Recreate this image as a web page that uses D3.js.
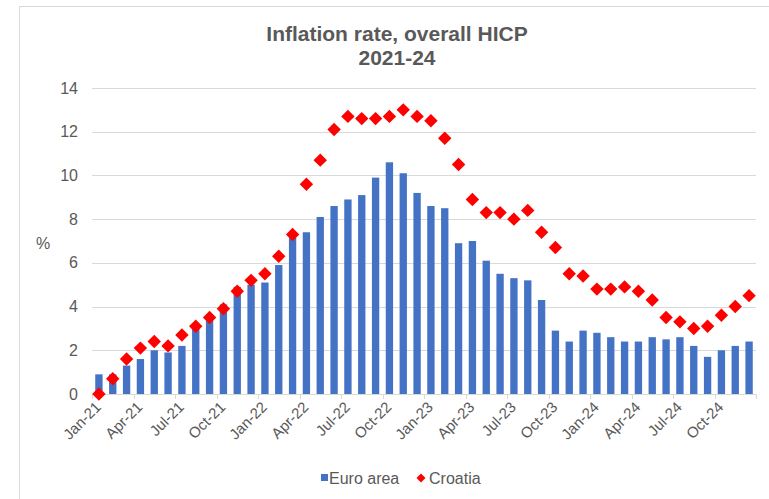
<!DOCTYPE html>
<html>
<head lang="en">
    <meta charset="UTF-8">
    <title>Inflation rate, overall HICP</title>
    <script src="https://cdnjs.cloudflare.com/ajax/libs/d3/7.8.5/d3.min.js"></script>
    <style>
        body { margin: 0; background: #fff; }
        text { font-family: Arial, "Liberation Sans", sans-serif; fill: #595959; }
    </style>
</head>
<body>

<script>

    // months Jan-21 .. Dec-24
    var years = ["21", "22", "23", "24"];
    var monthNames = ["Jan", "Feb", "Mar", "Apr", "May", "Jun", "Jul", "Aug", "Sep", "Oct", "Nov", "Dec"];
    var months = [];
    years.forEach(function(y){
        monthNames.forEach(function(m){ months.push(m + "-" + y); });
    });

    var euroArea = [0.9, 0.9, 1.3, 1.6, 2.0, 1.9, 2.2, 3.0, 3.4, 4.1, 4.9, 5.0,
                    5.1, 5.9, 7.4, 7.4, 8.1, 8.6, 8.9, 9.1, 9.9, 10.6, 10.1, 9.2,
                    8.6, 8.5, 6.9, 7.0, 6.1, 5.5, 5.3, 5.2, 4.3, 2.9, 2.4, 2.9,
                    2.8, 2.6, 2.4, 2.4, 2.6, 2.5, 2.6, 2.2, 1.7, 2.0, 2.2, 2.4];

    var croatia = [0.0, 0.7, 1.6, 2.1, 2.4, 2.2, 2.7, 3.1, 3.5, 3.9, 4.7, 5.2,
                   5.5, 6.3, 7.3, 9.6, 10.7, 12.1, 12.7, 12.6, 12.6, 12.7, 13.0, 12.7,
                   12.5, 11.7, 10.5, 8.9, 8.3, 8.3, 8.0, 8.4, 7.4, 6.7, 5.5, 5.4,
                   4.8, 4.8, 4.9, 4.7, 4.3, 3.5, 3.3, 3.0, 3.1, 3.6, 4.0, 4.5];

    var yTicks = [0, 2, 4, 6, 8, 10, 12, 14];
    var xLabels = months.filter(function(d, i){ return i % 3 === 0; });

    var width = 769;
    var height = 499;

    var svg = d3.select("body")
            .append("svg")
            .attr("width", width)
            .attr("height", height);

    // chart frame
    svg.append("rect")
            .attr("x", 19.5)
            .attr("y", 6.5)
            .attr("width", 800)
            .attr("height", 600)
            .attr("fill", "none")
            .attr("stroke", "#d9d9d9");

    var x = d3.scaleBand()
            .domain(months)
            .range([92, 756])
            .paddingInner(0.47)
            .paddingOuter(0.235);

    var y = d3.scaleLinear()
            .domain([0, 14])
            .range([394, 88]);

    // gridlines
    svg.selectAll("line.grid")
            .data(yTicks.slice(1))
            .enter()
            .append("line")
            .attr("class", "grid")
            .attr("x1", 92)
            .attr("x2", 756)
            .attr("y1", function(d){ return Math.round(y(d)) + 0.5; })
            .attr("y2", function(d){ return Math.round(y(d)) + 0.5; })
            .attr("stroke", "#d9d9d9")
            .attr("stroke-width", 1);

    // y labels
    svg.selectAll("text.ylab")
            .data(yTicks)
            .enter()
            .append("text")
            .attr("class", "ylab")
            .attr("x", 78)
            .attr("y", function(d){ return y(d) + 5.5; })
            .attr("text-anchor", "end")
            .style("font-size", "16px")
            .text(function(d){ return d; });

    svg.append("text")
            .attr("x", 43)
            .attr("y", 249)
            .attr("text-anchor", "middle")
            .style("font-size", "16px")
            .text("%");

    // bars
    svg.selectAll("rect.bar")
            .data(euroArea)
            .enter()
            .append("rect")
            .attr("class", "bar")
            .attr("x", function(d, i){ return x(months[i]); })
            .attr("y", function(d){ return y(d); })
            .attr("width", x.bandwidth())
            .attr("height", function(d){ return y(0) - y(d); })
            .attr("fill", "#4472c4");

    // x axis line and ticks (every 3 months, at category boundaries)
    svg.append("line")
            .attr("x1", 92)
            .attr("x2", 756)
            .attr("y1", 394.5)
            .attr("y2", 394.5)
            .attr("stroke", "#d9d9d9");

    var tickPos = d3.range(0, 49, 3).map(function(i){ return 92 + i * (664 / 48); });
    svg.selectAll("line.xtick")
            .data(tickPos)
            .enter()
            .append("line")
            .attr("class", "xtick")
            .attr("x1", function(d){ return Math.round(d) + 0.5; })
            .attr("x2", function(d){ return Math.round(d) + 0.5; })
            .attr("y1", 394)
            .attr("y2", 399)
            .attr("stroke", "#d9d9d9");

    // croatia diamonds
    var diamond = d3.symbol().type(d3.symbolSquare).size(90);
    svg.selectAll("path.hr")
            .data(croatia)
            .enter()
            .append("path")
            .attr("class", "hr")
            .attr("d", diamond)
            .attr("transform", function(d, i){
                return "translate(" + (x(months[i]) + x.bandwidth() / 2) + "," + y(d) + ") rotate(45)";
            })
            .attr("fill", "#ff0000");

    // x labels, rotated
    svg.selectAll("text.xlab")
            .data(xLabels)
            .enter()
            .append("text")
            .attr("class", "xlab")
            .attr("text-anchor", "end")
            .attr("transform", function(d){
                var cx = x(d) + x.bandwidth() / 2 + 3;
                return "translate(" + cx + ",408) rotate(-45)";
            })
            .style("font-size", "15px")
            .text(function(d){ return d; });

    // title
    svg.append("text")
            .attr("x", 397)
            .attr("y", 41)
            .attr("text-anchor", "middle")
            .style("font-size", "21px")
            .style("font-weight", "bold")
            .text("Inflation rate, overall HICP");
    svg.append("text")
            .attr("x", 397)
            .attr("y", 65)
            .attr("text-anchor", "middle")
            .style("font-size", "21px")
            .style("font-weight", "bold")
            .text("2021-24");

    // legend
    var legend = svg.append("g");
    legend.append("rect")
            .attr("x", 321)
            .attr("y", 474)
            .attr("width", 7)
            .attr("height", 7)
            .attr("fill", "#4472c4");
    legend.append("text")
            .attr("x", 329)
            .attr("y", 484)
            .style("font-size", "16px")
            .text("Euro area");
    legend.append("path")
            .attr("d", d3.symbol().type(d3.symbolSquare).size(40))
            .attr("transform", "translate(421,478) rotate(45)")
            .attr("fill", "#ff0000");
    legend.append("text")
            .attr("x", 429)
            .attr("y", 484)
            .style("font-size", "16px")
            .text("Croatia");

</script>

</body>
</html>
